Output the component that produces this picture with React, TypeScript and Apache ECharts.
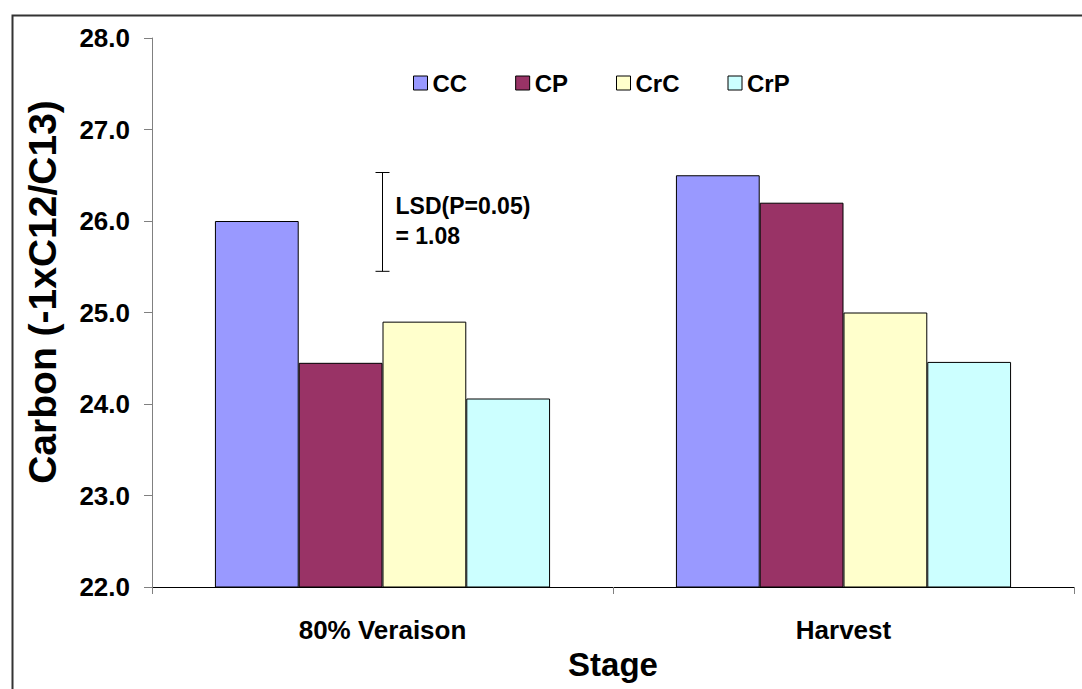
import React, { useEffect, useRef } from "react";
import * as echarts from "echarts";

const categories = ["80% Veraison", "Harvest"];
const seriesNames = ["CC", "CP", "CrC", "CrP"];
const ccValues = [26.0, 26.5];
const cpValues = [24.45, 26.2];
const crcValues = [24.9, 25.0];
const crpValues = [24.06, 24.46];
const seriesColors = ["#9999FF", "#993366", "#FFFFCC", "#CCFFFF"];
const lsdLow = 25.45;
const lsdHigh = 26.53;
const lsdLines = ["LSD(P=0.05)", "= 1.08"];
const yTitle = "Carbon (-1xC12/C13)";
const xTitle = "Stage";
const yMin = 22;
const yMax = 28;
const yInterval = 1;

const FONT = "Arial, 'Liberation Sans', sans-serif";

export default function App() {
  const ref = useRef<HTMLDivElement>(null);
  useEffect(() => {
    if (!ref.current) return;
    const chart = echarts.init(ref.current, undefined, { renderer: "svg" });
    const values = [ccValues, cpValues, crcValues, crpValues];
    const barSeries = seriesNames.map((name, i) => ({
      name,
      type: "bar",
      data: values[i],
      barGap: "0%",
      barCategoryGap: "27.3%",
      itemStyle: { color: seriesColors[i], borderColor: "#000", borderWidth: 1 },
    }));
    const option: any = {
      animation: false,
      backgroundColor: "#fff",
      textStyle: { fontFamily: FONT },
      grid: { left: 152, right: 8, top: 38, bottom: 102, containLabel: false },
      legend: {
        left: 408,
        top: 66,
        itemWidth: 14,
        itemHeight: 14,
        itemGap: 48,
        icon: "rect",
        data: seriesNames,
        itemStyle: { borderColor: "#000", borderWidth: 1 },
        textStyle: { fontSize: 24, fontWeight: "bold", color: "#000", fontFamily: FONT },
      },
      xAxis: {
        type: "category",
        data: categories,
        name: xTitle,
        nameLocation: "middle",
        nameGap: 58,
        nameTextStyle: { fontSize: 33, fontWeight: "bold", color: "#000", fontFamily: FONT },
        axisLine: { lineStyle: { color: "#000", width: 1 } },
        axisTick: { show: true, length: 7, lineStyle: { color: "#808080" } },
        axisLabel: { fontSize: 26, fontWeight: "bold", color: "#000", margin: 30, fontFamily: FONT },
      },
      yAxis: {
        type: "value",
        min: yMin,
        max: yMax,
        interval: yInterval,
        splitLine: { show: false },
        axisLine: { show: true, lineStyle: { color: "#808080", width: 1 } },
        axisTick: { show: true, length: 8, lineStyle: { color: "#808080" } },
        axisLabel: {
          fontSize: 26,
          fontWeight: "bold",
          color: "#000",
          margin: 22,
          fontFamily: FONT,
          formatter: (v: number) => v.toFixed(1),
        },
      },
      series: [
        ...barSeries,
        {
          type: "custom",
          name: "LSD",
          silent: true,
          data: [[0, lsdLow, lsdHigh]],
          z: 10,
          renderItem: (params: any, api: any) => {
            const top = api.coord([api.value(0), api.value(2)]);
            const bot = api.coord([api.value(0), api.value(1)]);
            const x = top[0];
            const cap = 7;
            const ls = { stroke: "#000", lineWidth: 1 };
            return {
              type: "group",
              children: [
                { type: "line", shape: { x1: x, y1: top[1], x2: x, y2: bot[1] }, style: ls },
                { type: "line", shape: { x1: x - cap, y1: top[1], x2: x + cap, y2: top[1] }, style: ls },
                { type: "line", shape: { x1: x - cap, y1: bot[1], x2: x + cap, y2: bot[1] }, style: ls },
                {
                  type: "text",
                  x: x + 13,
                  y: top[1] + 33,
                  style: {
                    text: lsdLines[0],
                    fontSize: 23,
                    fontWeight: "bold",
                    fontFamily: FONT,
                    fill: "#000",
                    verticalAlign: "middle",
                  },
                },
                {
                  type: "text",
                  x: x + 13,
                  y: top[1] + 63,
                  style: {
                    text: lsdLines[1],
                    fontSize: 23,
                    fontWeight: "bold",
                    fontFamily: FONT,
                    fill: "#000",
                    verticalAlign: "middle",
                  },
                },
              ],
            };
          },
        },
      ],
      graphic: [
        {
          type: "rect",
          left: 10,
          top: 13,
          shape: { width: 1100, height: 700 },
          style: { fill: "none", stroke: "#333", lineWidth: 2 },
          silent: true,
        },
        {
          type: "text",
          x: 42,
          y: 292,
          rotation: Math.PI / 2,
          style: {
            text: yTitle,
            fontSize: 39,
            fontWeight: "bold",
            fontFamily: FONT,
            fill: "#000",
            align: "center",
            verticalAlign: "middle",
          },
          silent: true,
        },
      ],
    };
    chart.setOption(option);
    return () => chart.dispose();
  }, []);
  return (
    <div
      ref={ref}
      style={{ position: "absolute", left: 0, top: 0, width: 1082, height: 689 }}
    />
  );
}
